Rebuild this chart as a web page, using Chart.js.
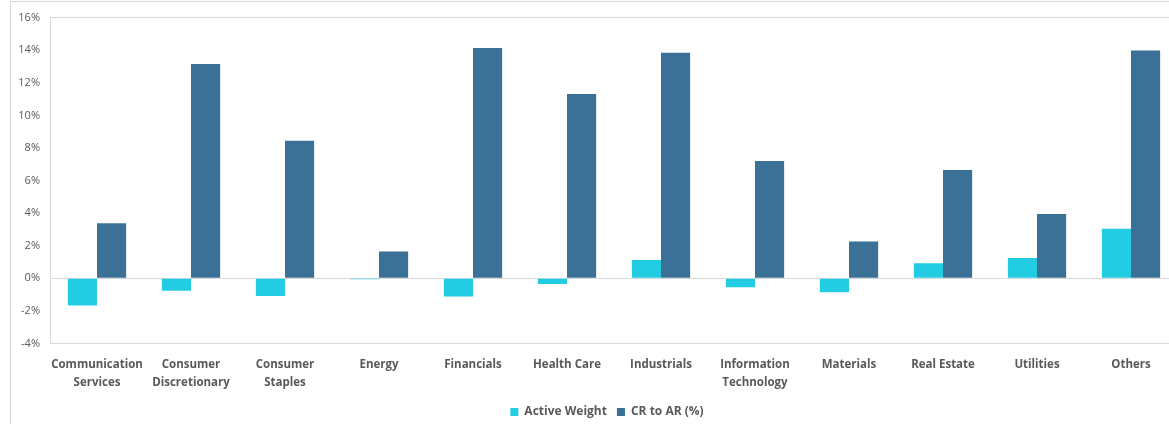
<!DOCTYPE html>
<html>
<head>
<meta charset="utf-8">
<script src="https://cdn.jsdelivr.net/npm/chart.js@4"></script>
<style>
  html, body { margin: 0; padding: 0; background: #fff; overflow: hidden; }
  #frame {
    position: absolute; left: 10px; top: 1px;
    width: 1220px; height: 440px;
    border: 1px solid #d9d9d9;
  }
  #wrap { position: absolute; left: 0; top: -1px; width: 1183px; height: 427px; }
</style>
</head>
<body>
<div id="frame">
  <div id="wrap"><canvas id="sectors"></canvas></div>
</div>
<script>
// sectors and the two series, in %
var sectors = [
  ['Communication', 'Services'],
  ['Consumer', 'Discretionary'],
  ['Consumer', 'Staples'],
  'Energy',
  'Financials',
  'Health Care',
  'Industrials',
  ['Information', 'Technology'],
  'Materials',
  'Real Estate',
  'Utilities',
  'Others'
];
var activeWeight = [-1.67, -0.77, -1.08, -0.05, -1.12, -0.35, 1.12, -0.55, -0.85, 0.92, 1.24, 3.04];
var crToAr = [3.38, 13.15, 8.44, 1.65, 14.13, 11.31, 13.84, 7.2, 2.26, 6.65, 3.95, 13.98];
var yTicks = { min: -4, max: 16, step: 2 };

var grey = '#595959';
var lineGrey = '#d9d9d9';

// nudge the legend a little left of the plot centre
var legendShift = {
  id: 'legendShift',
  afterLayout: function (c) {
    c.legend.left -= 7;
    c.legend.right -= 7;
  }
};

var ctx = document.getElementById('sectors').getContext('2d');
var chart = new Chart(ctx, {
  type: 'bar',
  data: {
    labels: sectors,
    datasets: [{
      label: 'Active Weight',
      data: activeWeight,
      backgroundColor: '#22cde4',
      borderWidth: 0
    },
    {
      label: 'CR to AR (%)',
      data: crToAr,
      backgroundColor: '#3b7196',
      borderWidth: 0
    }]
  },
  plugins: [legendShift],
  options: {
    responsive: true,
    maintainAspectRatio: false,
    animation: false,
    layout: {
      padding: { left: 0, right: 16, top: 16, bottom: 0 }
    },
    datasets: {
      bar: { barPercentage: 1, categoryPercentage: 0.62 }
    },
    scales: {
      x: {
        grid: { display: false },
        border: { display: true, color: lineGrey, width: 1 },
        ticks: {
          color: grey,
          padding: 5,
          maxRotation: 0,
          autoSkip: false,
          font: { family: 'Open Sans', size: 11.5, weight: 'bold', lineHeight: 1.5 }
        }
      },
      y: {
        min: yTicks.min,
        max: yTicks.max,
        afterFit: function (axis) { axis.width = 39; },
        grid: {
          drawTicks: false,
          color: function (c) {
            var v = c.tick.value;
            return (v === 0 || v === yTicks.max) ? lineGrey : 'rgba(0,0,0,0)';
          },
          lineWidth: 1
        },
        border: { display: true, color: lineGrey, width: 1 },
        ticks: {
          stepSize: yTicks.step,
          color: grey,
          padding: 10,
          font: { family: 'Open Sans', size: 11 },
          callback: function (v) { return v + '%'; }
        }
      }
    },
    plugins: {
      tooltip: { enabled: false },
      legend: {
        position: 'bottom',
        fullSize: false,
        labels: {
          color: grey,
          boxWidth: 8,
          boxHeight: 8,
          padding: 10,
          font: { family: 'Open Sans', size: 12, weight: 'bold' }
        }
      }
    }
  }
});
</script>
</body>
</html>
